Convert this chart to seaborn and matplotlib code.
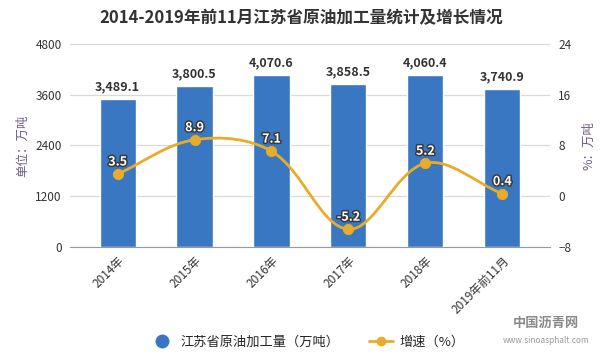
"""Jiangsu crude oil processing volume, Jan-Nov 2014-2019, with growth rate."""

import numpy as np
import pandas as pd
import matplotlib
matplotlib.use("Agg")
import matplotlib.pyplot as plt
import matplotlib.patheffects as pe
from matplotlib.path import Path
from matplotlib.patches import PathPatch
from matplotlib.lines import Line2D
import seaborn as sns

# Data
years = ["2014年", "2015年", "2016年", "2017年", "2018年", "2019年前11月"]
volume = [3489.1, 3800.5, 4070.6, 3858.5, 4060.4, 3740.9]  # 万吨
growth = [3.5, 8.9, 7.1, -5.2, 5.2, 0.4]  # %

bar_color = "#3A77C2"
line_color = "#E8AC28"
text_color = "#333333"
label_color = "#6E5C86"

sns.set_style("white")
plt.rcParams["font.family"] = ["Noto Sans CJK SC", "DejaVu Sans"]

df = pd.DataFrame({"year": years, "volume": volume, "growth": growth})

fig = plt.figure(figsize=(6.03, 3.57), dpi=100)
ax = fig.add_axes([0.116, 0.308, 0.796, 0.569])

sns.barplot(data=df, x="year", y="volume", color=bar_color, width=0.47,
            saturation=1, ax=ax, zorder=2)
ax.set_xlim(-0.62, 5.62)
ax.set_ylim(0, 4800)
ax.set_yticks([0, 1200, 2400, 3600, 4800])
ax.grid(axis="y", color="#D9D9D9", linewidth=0.9, zorder=0)
ax.set_axisbelow(True)
for s in ["top", "right", "left"]:
    ax.spines[s].set_visible(False)
ax.spines["bottom"].set_color("#999999")
ax.tick_params(axis="x", length=4, color="#999999", labelsize=8.5,
               labelcolor=text_color, pad=1)
ax.tick_params(axis="y", length=0, labelsize=8.5, labelcolor=text_color, pad=6)
plt.setp(ax.get_xticklabels(), rotation=45, ha="right", rotation_mode="anchor")
ax.set_xlabel("")
ax.set_ylabel("单位：万吨", color=label_color, fontsize=9, labelpad=4)

for i, v in enumerate(volume):
    ax.annotate(f"{v:,.1f}", (i, v), xytext=(0, 4), textcoords="offset points",
                ha="center", va="bottom", fontsize=9, fontweight="bold",
                color=text_color, zorder=5)

# growth rate on the right axis, smooth curve like the source chart
ax2 = ax.twinx()
ax2.set_ylim(-8, 24)
ax2.set_yticks([-8, 0, 8, 16, 24])
for s in ["top", "right", "left", "bottom"]:
    ax2.spines[s].set_visible(False)
ax2.tick_params(axis="y", length=0, labelsize=8.5, labelcolor=text_color, pad=6)
ax2.set_ylabel("%：万吨", color=label_color, fontsize=9, labelpad=8, rotation=90)

# control points weighted by on-screen distance (about 77 px per category,
# 6.3 px per percent)
x = np.arange(len(growth), dtype=float)
y = np.array(growth, dtype=float)
sx, sy = 77.0, 6.34
smooth = 0.35
n = len(x)
cp_in, cp_out = [], []
for i in range(n):
    a, b = max(i - 1, 0), min(i + 1, n - 1)
    vx, vy = x[b] - x[a], y[b] - y[a]
    d0 = np.hypot((x[i] - x[a]) * sx, (y[i] - y[a]) * sy)
    d1 = np.hypot((x[b] - x[i]) * sx, (y[b] - y[i]) * sy)
    tot = d0 + d1 if d0 + d1 > 0 else 1.0
    cp_in.append((x[i] - vx * smooth * d0 / tot, y[i] - vy * smooth * d0 / tot))
    cp_out.append((x[i] + vx * smooth * d1 / tot, y[i] + vy * smooth * d1 / tot))
verts = [(x[0], y[0])]
codes = [Path.MOVETO]
for i in range(n - 1):
    verts += [cp_out[i], cp_in[i + 1], (x[i + 1], y[i + 1])]
    codes += [Path.CURVE4] * 3
ax2.add_patch(PathPatch(Path(verts, codes), facecolor="none",
                        edgecolor=line_color, linewidth=2, zorder=3))
sns.scatterplot(x=x, y=y, color=line_color, s=55, edgecolor=line_color,
                ax=ax2, zorder=4, legend=False)

for i, g in enumerate(growth):
    ax2.annotate(f"{g}", (i, g), xytext=(0, 4), textcoords="offset points",
                 ha="center", va="bottom", fontsize=9, fontweight="bold",
                 color="white", zorder=6,
                 path_effects=[pe.withStroke(linewidth=2.2, foreground="#3a3a3a")])

fig.suptitle("2014-2019年前11月江苏省原油加工量统计及增长情况", x=0.5, y=0.975,
             fontsize=12, fontweight="bold", color=text_color)

handles = [
    Line2D([], [], marker="o", linestyle="none", markersize=9,
           color=bar_color, label="江苏省原油加工量（万吨）"),
    Line2D([], [], marker="o", linestyle="-", markersize=6, linewidth=2,
           color=line_color, label="增速（%）"),
]
fig.legend(handles=handles, loc="center", bbox_to_anchor=(0.51, 0.042), ncol=2,
           frameon=False, fontsize=9.5, handlelength=1.8, columnspacing=2.2,
           handletextpad=0.5)

# source logo, bottom right
fig.text(0.905, 0.095, "中国沥青网", fontsize=9.5, fontweight="bold",
         color="#8a8a8a", ha="center", va="center")
fig.text(0.905, 0.045, "www.sinoasphalt.com", fontsize=6, color="#9a9a9a",
         ha="center", va="center")

fig.savefig("out.png", dpi=100)
